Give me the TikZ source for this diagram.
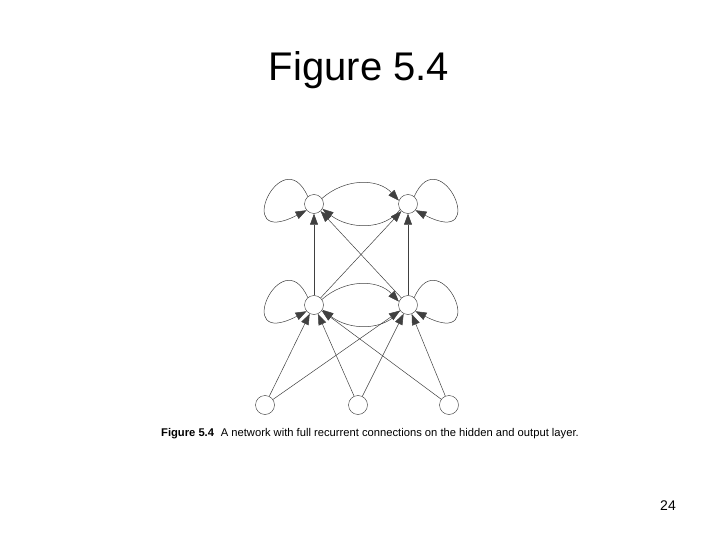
\documentclass[tikz,border=0pt]{standalone}
\usepackage{fontspec}
\setmainfont{Liberation Sans}
\usetikzlibrary{arrows.meta}
\tikzset{
  unit/.style={draw=black!80,circle,minimum size=19pt,inner sep=0pt},
  link/.style={draw=black!75,line width=0.5pt,-{Triangle[length=11pt,width=8pt]}}
}
\begin{document}
\begin{tikzpicture}[x=1pt,y=-1pt]
\useasboundingbox (0,0) rectangle (720,540);

\node at (359,70) {\fontsize{40}{44}\selectfont Figure 5.4};

% output layer
\node[unit] (o1) at (314,204) {};
\node[unit] (o2) at (408,204) {};
% hidden layer
\node[unit] (h1) at (314,305) {};
\node[unit] (h2) at (408,305) {};
% input layer
\node[unit] (i1) at (265,405) {};
\node[unit] (i2) at (358,405) {};
\node[unit] (i3) at (449,405) {};

% input to hidden
\foreach \i in {i1,i2,i3}{
  \draw[link] (\i) -- (h1);
  \draw[link] (\i) -- (h2);
}

% hidden to output
\draw[link] (h1) -- (o1);
\draw[link] (h1) -- (o2);
\draw[link] (h2) -- (o1);
\draw[link] (h2) -- (o2);

% recurrent links between units
\draw[link] (o1.35) .. controls (345,178) and (378,178) .. (o2.160);
\draw[link] (o2.215) .. controls (385,230) and (350,230) .. (o1.330);
\draw[link] (h1.35) .. controls (345,279) and (378,279) .. (h2.160);
\draw[link] (h2.215) .. controls (385,331) and (350,331) .. (h1.330);

% self loops
\draw[link] (o1.130) .. controls (282,138) and (230,250) .. (o1.220);
\draw[link] (o2.50) .. controls (440,138) and (492,250) .. (o2.320);
\draw[link] (h1.130) .. controls (282,239) and (230,351) .. (h1.220);
\draw[link] (h2.50) .. controls (440,239) and (492,351) .. (h2.320);

\node at (370,434) {\fontsize{11.2}{13}\selectfont\textbf{Figure 5.4}\hspace{0.6em}A network with full recurrent connections on the hidden and output layer.};

\node at (668,506) {\fontsize{14}{16}\selectfont 24};
\end{tikzpicture}
\end{document}
